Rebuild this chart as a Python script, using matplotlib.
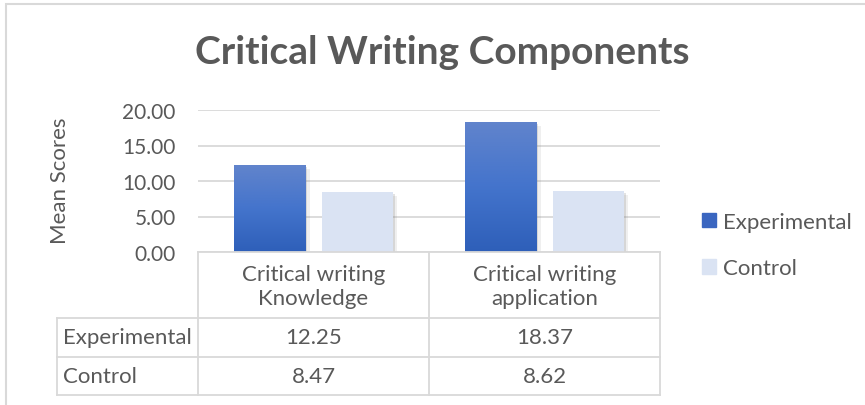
import numpy as np
import matplotlib.pyplot as plt
import matplotlib.patheffects as pe
from matplotlib.patches import Rectangle
from matplotlib.lines import Line2D
from matplotlib.colors import LinearSegmentedColormap

# data
categories = ['Critical writing\nKnowledge', 'Critical writing\napplication']
series_names = ['Experimental', 'Control']
experimental = [12.25, 18.37]
control = [8.47, 8.62]
yticks = [0, 5, 10, 15, 20]

W, H = 865, 406
plt.rcParams['font.family'] = ['Lato', 'DejaVu Sans']
txt = '#595959'
grid_c = '#d9d9d9'
fs = 16

fig = plt.figure(figsize=(W / 100, H / 100), dpi=100)

def fx(px):
    return px / W

def fy(py):
    return 1 - py / H

# plot area in pixel coords
L, R, T, B = 198, 660, 111, 253
ax = fig.add_axes([fx(L), fy(B), fx(R - L), (B - T) / H])

x = np.arange(len(categories))
w = 0.31
off = 0.19
shadow = [pe.SimplePatchShadow(offset=(3, -3), shadow_rgbFace='#808080', alpha=0.12),
          pe.SimplePatchShadow(offset=(1.5, -1.5), shadow_rgbFace='#808080', alpha=0.22),
          pe.Normal()]
b1 = ax.bar(x - off, experimental, w, color='#4472c4', zorder=3, path_effects=shadow,
            label=series_names[0])
b2 = ax.bar(x + off, control, w, color='#dae3f3', zorder=3, path_effects=shadow,
            label=series_names[1])

# gradient fill for experimental bars
grad = np.linspace(0, 1, 256).reshape(-1, 1)
cmap = LinearSegmentedColormap.from_list('g', ['#2e5fb9', '#4474cc', '#6184cc'])
for bar in b1:
    x0, y0 = bar.get_x(), bar.get_y()
    im = ax.imshow(grad, extent=(x0, x0 + bar.get_width(), y0, y0 + bar.get_height()),
                   origin='lower', aspect='auto', cmap=cmap, zorder=4)
    im.set_clip_path(bar)
ax.set_xlim(-0.5, len(categories) - 0.5)
ax.set_ylim(0, 20)

ax.set_yticks(yticks)
ax.set_yticklabels(['%.2f' % v for v in yticks], fontsize=15, color=txt)
ax.set_xticks([])
ax.tick_params(axis='y', length=0, pad=16)
ax.yaxis.grid(True, color=grid_c, lw=1.3)
ax.set_axisbelow(True)
for s in ax.spines.values():
    s.set_visible(False)
fig.text(fx(60), fy(181), 'Mean Scores', rotation=90, ha='center', va='center',
         fontsize=fs, color=txt)

# title
fig.text(fx(442), fy(52), 'Critical Writing Components', ha='center', va='center',
         fontsize=28, fontweight='bold', color=txt)

# data table
col_x = [L, (L + R) / 2, R]
lab_x0 = 57
rows_y = [B, 319, 358, 396]
def hline(px0, px1, py):
    fig.add_artist(Line2D([fx(px0), fx(px1)], [fy(py), fy(py)], color=grid_c, lw=1.3))
def vline(px, py0, py1):
    fig.add_artist(Line2D([fx(px), fx(px)], [fy(py0), fy(py1)], color=grid_c, lw=1.3))
hline(L, R, rows_y[0])
for py in rows_y[1:]:
    hline(lab_x0, R, py)
vline(lab_x0, rows_y[1], rows_y[3])
for px in col_x:
    vline(px, rows_y[0], rows_y[3])
for i, c in enumerate(categories):
    cx = (col_x[i] + col_x[i + 1]) / 2
    fig.text(fx(cx), fy(287), c, ha='center', va='center',
             fontsize=fs, color=txt, linespacing=1.2)
for r, (name, vals) in enumerate(zip(series_names, [experimental, control])):
    cy = (rows_y[r + 1] + rows_y[r + 2]) / 2
    fig.text(fx(lab_x0 + 6), fy(cy), name, ha='left', va='center', fontsize=fs, color=txt)
    for i, v in enumerate(vals):
        cx = (col_x[i] + col_x[i + 1]) / 2
        fig.text(fx(cx), fy(cy), '%.2f' % v, ha='center', va='center', fontsize=fs, color=txt)

# legend
fig.legend(handles=[Rectangle((0, 0), 1, 1, color='#3a66c0'),
                    Rectangle((0, 0), 1, 1, color='#dae3f3')],
           labels=series_names, loc='center left', bbox_to_anchor=(fx(702), fy(246)),
           frameon=False, fontsize=fs, labelcolor=txt, handlelength=0.64,
           handleheight=0.64, handletextpad=0.3, labelspacing=1.2, borderpad=0,
           borderaxespad=0)

# outer frame
fig.add_artist(Rectangle((fx(6), -0.05), 1.1, fy(5) + 0.05, transform=fig.transFigure,
                         fill=False, edgecolor=grid_c, lw=1.5))

plt.savefig('out.png', dpi=100)
plt.close()
